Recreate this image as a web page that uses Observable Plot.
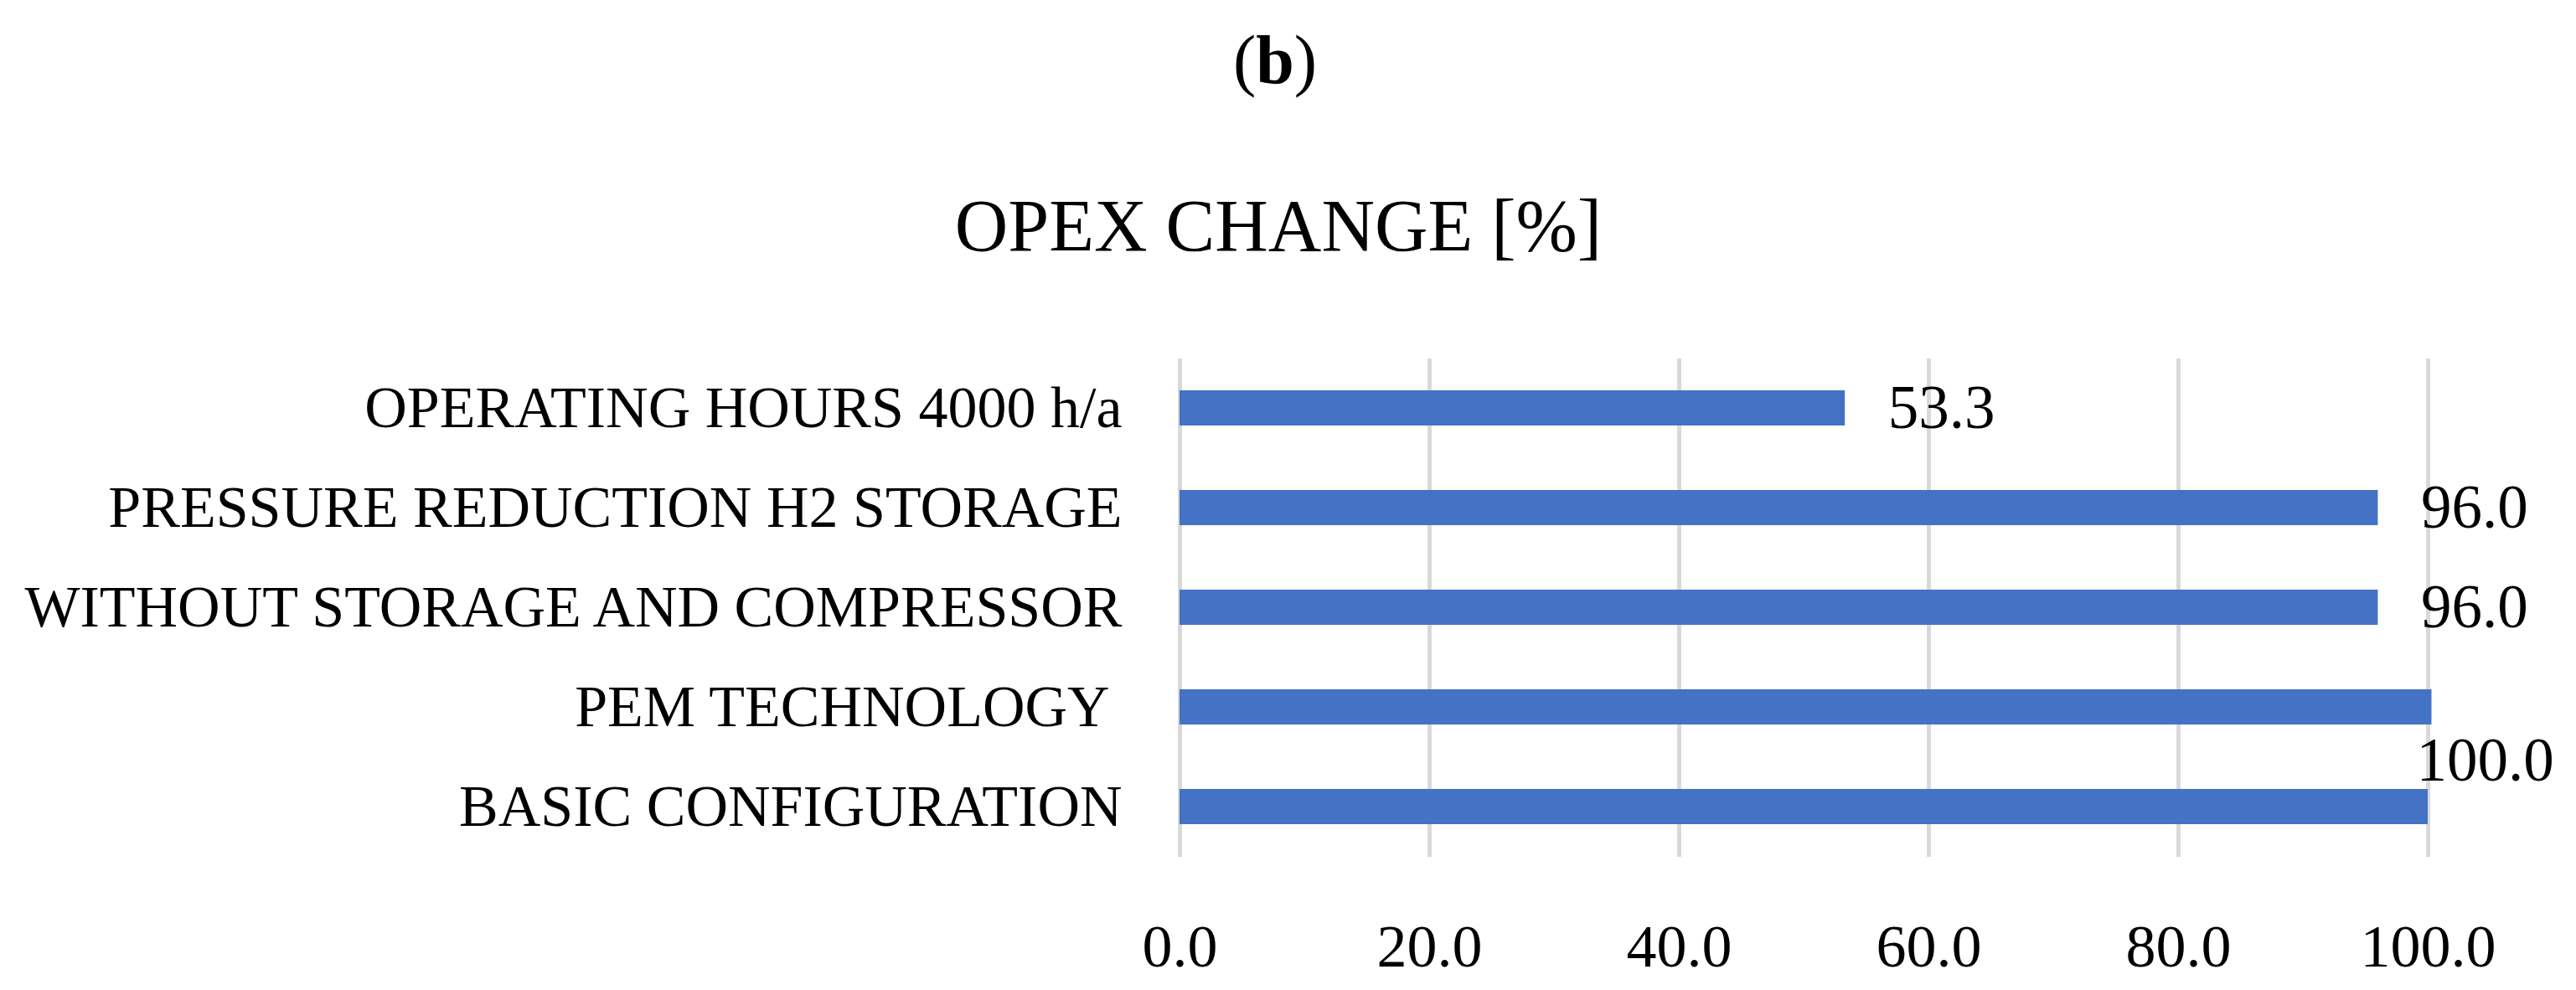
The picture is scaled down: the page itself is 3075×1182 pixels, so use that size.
<!DOCTYPE html>
<html>
<head>
<meta charset="utf-8">
<script src="https://cdn.jsdelivr.net/npm/d3@7"></script>
<script src="https://cdn.jsdelivr.net/npm/@observablehq/plot@0.6"></script>
<style>
  html, body { margin: 0; padding: 0; background: #ffffff; }
  #wrap { position: relative; width: 3075px; height: 1182px; overflow: hidden; background: #ffffff;
          font-family: "Palatino Linotype", "Book Antiqua", Palatino, "Liberation Serif", serif; color: #000; }
  #panel { position: absolute; left: 0; top: 31px; width: 3044px; text-align: center;
           font-size: 82px; line-height: 82px; font-weight: bold; }
  #panel span { font-weight: normal; }
  #title { position: absolute; left: 0; top: 226px; width: 3052px; text-align: center;
           font-size: 88px; line-height: 88px; }
  #chart { position: absolute; left: 0; top: 340px; }
  svg text { white-space: pre; }
</style>
</head>
<body>
<div id="wrap">
  <div id="panel"><span>(</span>b<span>)</span></div>
  <div id="title">OPEX CHANGE [%]</div>
  <div id="chart"></div>
</div>
<script>
const categories = [
  "OPERATING HOURS 4000 h/a",
  "PRESSURE REDUCTION H2 STORAGE",
  "WITHOUT STORAGE AND COMPRESSOR",
  "PEM TECHNOLOGY ",
  "BASIC CONFIGURATION"
];
const values = [53.3, 96.0, 96.0, 100.3, 100.0];
const valueLabels = ["53.3", "96.0", "96.0", "", "100.0"];
const xTicks = [0, 20, 40, 60, 80, 100];

const data = categories.map((c, i) => ({category: c, value: values[i], label: valueLabels[i]}));
const shifted = "BASIC CONFIGURATION";

const fontFamily = '"Palatino Linotype", "Book Antiqua", Palatino, "Liberation Serif", serif';

const chart = Plot.plot({
  width: 3075,
  height: 842,
  marginTop: 88,
  marginBottom: 159,
  marginLeft: 1408,
  marginRight: 177,
  style: {fontFamily, color: "#000", background: "transparent", overflow: "visible"},
  x: {domain: [0, 100], axis: null},
  y: {domain: categories, paddingInner: 0.647, paddingOuter: 0.3235, axis: null},
  marks: [
    Plot.ruleX(xTicks, {stroke: "#d9d9d9", strokeWidth: 5}),
    Plot.barX(data, {x: "value", y: "category", fill: "#4472C4"}),
    Plot.text(data.filter(d => d.label && d.category !== shifted), {
      x: "value", y: "category", text: "label", dx: 51, textAnchor: "start", fontSize: 73, fill: "#000"
    }),
    Plot.text(data.filter(d => d.label && d.category === shifted), {
      x: "value", y: "category", text: "label", dx: -14, dy: -55, textAnchor: "start", fontSize: 73, fill: "#000"
    }),
    Plot.axisY({tickSize: 0, tickPadding: 69, fontSize: 70, textAnchor: "end", label: null}),
    Plot.axisX({ticks: xTicks, tickFormat: d => d.toFixed(1), tickSize: 0, tickPadding: 79, fontSize: 72, label: null})
  ]
});
document.getElementById("chart").appendChild(chart);
</script>
</body>
</html>
